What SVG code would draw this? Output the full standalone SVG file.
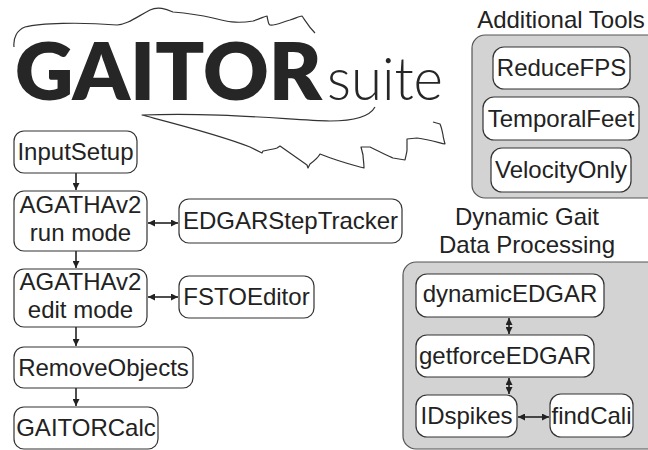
<svg xmlns="http://www.w3.org/2000/svg" width="648" height="450" viewBox="0 0 648 450">
<defs>
<style>
.box{fill:#fff;stroke:#333;stroke-width:1.2}
.grp{fill:#d3d3d3;stroke:#555;stroke-width:1.2}
.t{font-family:"Liberation Sans",Arial,sans-serif;font-size:24px;fill:#222;text-anchor:middle}
.c{stroke:#222;stroke-width:1.6;fill:none}
.doodle{fill:none;stroke:#333;stroke-width:1.2;stroke-linejoin:round}
</style>
<marker id="ah" viewBox="0 0 8 8" refX="8" refY="4" markerWidth="8" markerHeight="7" markerUnits="userSpaceOnUse" orient="auto-start-reverse">
<path d="M0,0 L8,4 L0,8 Z" fill="#222"/>
</marker>
</defs>
<rect width="648" height="450" fill="#fff"/>

<g id="logo">
<path class="doodle" d="M14,47 C13,38 17,30 25,27 C40,23 80,22 117,25 C128,24 135,18 150,10 C158,6 166,9 173,12 C185,13 200,15 213,18 C225,21 235,24 253,21 C260,19 265,16 267,16 C268,20 268,24 270,25 C274,26 280,23 290,20 C296,18 300,16 302,16 C305,20 308,26 315,33"/>
<path class="doodle" d="M375,107 C370,116 355,121 330,121 C290,120 220,112 142,115 C180,125 220,135 250,147 L262,153 L263,151 C268,150 274,149 277,148 L280,146 L307,165 L308,168 L310,164 C314,161 318,158 320,154 C330,158 345,163 360,167 L364,168 C364,163 363,158 363,155 L361,147 L370,147 C380,152 388,156 393,158 L405,160 C406,155 407,152 407,150 L407,139 L417,138 C430,140 440,143 445,144 C444,140 443,137 443,135 C442,130 441,126 440,124 L433,122"/>
<text x="15" y="100" font-family="Lato,Inter,sans-serif" font-weight="800" font-size="79" fill="#262626" textLength="307" lengthAdjust="spacingAndGlyphs">GAITOR</text>
<text x="327" y="100" font-family="Lato,Inter,sans-serif" font-weight="300" font-size="60" fill="#262626" textLength="116" lengthAdjust="spacingAndGlyphs">suite</text>
</g>

<g id="connectors">
<line class="c" x1="76" y1="173" x2="76" y2="190" marker-end="url(#ah)"/>
<line class="c" x1="76" y1="251" x2="76" y2="268" marker-end="url(#ah)"/>
<line class="c" x1="76" y1="327" x2="76" y2="346" marker-end="url(#ah)"/>
<line class="c" x1="76" y1="388" x2="76" y2="406" marker-end="url(#ah)"/>
<line class="c" x1="148" y1="223" x2="178" y2="223" marker-start="url(#ah)" marker-end="url(#ah)"/>
<line class="c" x1="148" y1="297" x2="178" y2="297" marker-start="url(#ah)" marker-end="url(#ah)"/>
</g>

<g id="InputSetup"><rect class="box" x="14" y="131" width="123" height="42" rx="10"/><text class="t" x="75.5" y="160">InputSetup</text></g>
<g id="AGATHAv2-run"><rect class="box" x="14" y="191" width="133" height="60" rx="10"/><text class="t" x="80.5" y="213">AGATHAv2</text><text class="t" x="80.5" y="241">run mode</text></g>
<g id="EDGARStepTracker"><rect class="box" x="179" y="199" width="223" height="44" rx="10"/><text class="t" x="290.5" y="229">EDGARStepTracker</text></g>
<g id="AGATHAv2-edit"><rect class="box" x="14" y="269" width="133" height="58" rx="10"/><text class="t" x="80.5" y="290">AGATHAv2</text><text class="t" x="80.5" y="318">edit mode</text></g>
<g id="FSTOEditor"><rect class="box" x="179" y="276" width="135" height="42" rx="10"/><text class="t" x="246.5" y="305">FSTOEditor</text></g>
<g id="RemoveObjects"><rect class="box" x="14" y="347" width="179" height="41" rx="10"/><text class="t" x="103.5" y="376">RemoveObjects</text></g>
<g id="GAITORCalc"><rect class="box" x="14" y="407" width="144" height="42" rx="10"/><text class="t" x="86" y="436">GAITORCalc</text></g>

<g id="AdditionalTools">
<text class="t" x="561" y="28">Additional Tools</text>
<rect class="grp" x="472" y="35" width="190" height="163" rx="13"/>
<g id="ReduceFPS"><rect class="box" x="493" y="47" width="137" height="42" rx="11"/><text class="t" x="561.5" y="76">ReduceFPS</text></g>
<g id="TemporalFeet"><rect class="box" x="483" y="97" width="156" height="43" rx="11"/><text class="t" x="561" y="127">TemporalFeet</text></g>
<g id="VelocityOnly"><rect class="box" x="491" y="148" width="140" height="44" rx="11"/><text class="t" x="561" y="178">VelocityOnly</text></g>
</g>

<g id="DynamicGait">
<text class="t" x="527" y="225">Dynamic Gait</text>
<text class="t" x="527" y="253">Data Processing</text>
<rect class="grp" x="403" y="262" width="260" height="187" rx="13"/>
<g id="dynamicEDGAR"><rect class="box" x="416" y="274" width="188" height="43" rx="11"/><text class="t" x="510" y="302">dynamicEDGAR</text></g>
<g id="getforceEDGAR"><rect class="box" x="416" y="335" width="178" height="42" rx="11"/><text class="t" x="505" y="364">getforceEDGAR</text></g>
<g id="IDspikes"><rect class="box" x="416" y="395" width="101" height="42" rx="11"/><text class="t" x="466.5" y="424">IDspikes</text></g>
<g id="findCali"><rect class="box" x="550" y="394" width="83" height="43" rx="11"/><text class="t" x="591.5" y="424">findCali</text></g>
<g id="dg-connectors">
<line class="c" x1="509" y1="318" x2="509" y2="334" marker-start="url(#ah)" marker-end="url(#ah)"/>
<line class="c" x1="509" y1="378" x2="509" y2="394" marker-start="url(#ah)" marker-end="url(#ah)"/>
<line class="c" x1="518" y1="417" x2="549" y2="417" marker-start="url(#ah)" marker-end="url(#ah)"/>
</g>
</g>
</svg>
